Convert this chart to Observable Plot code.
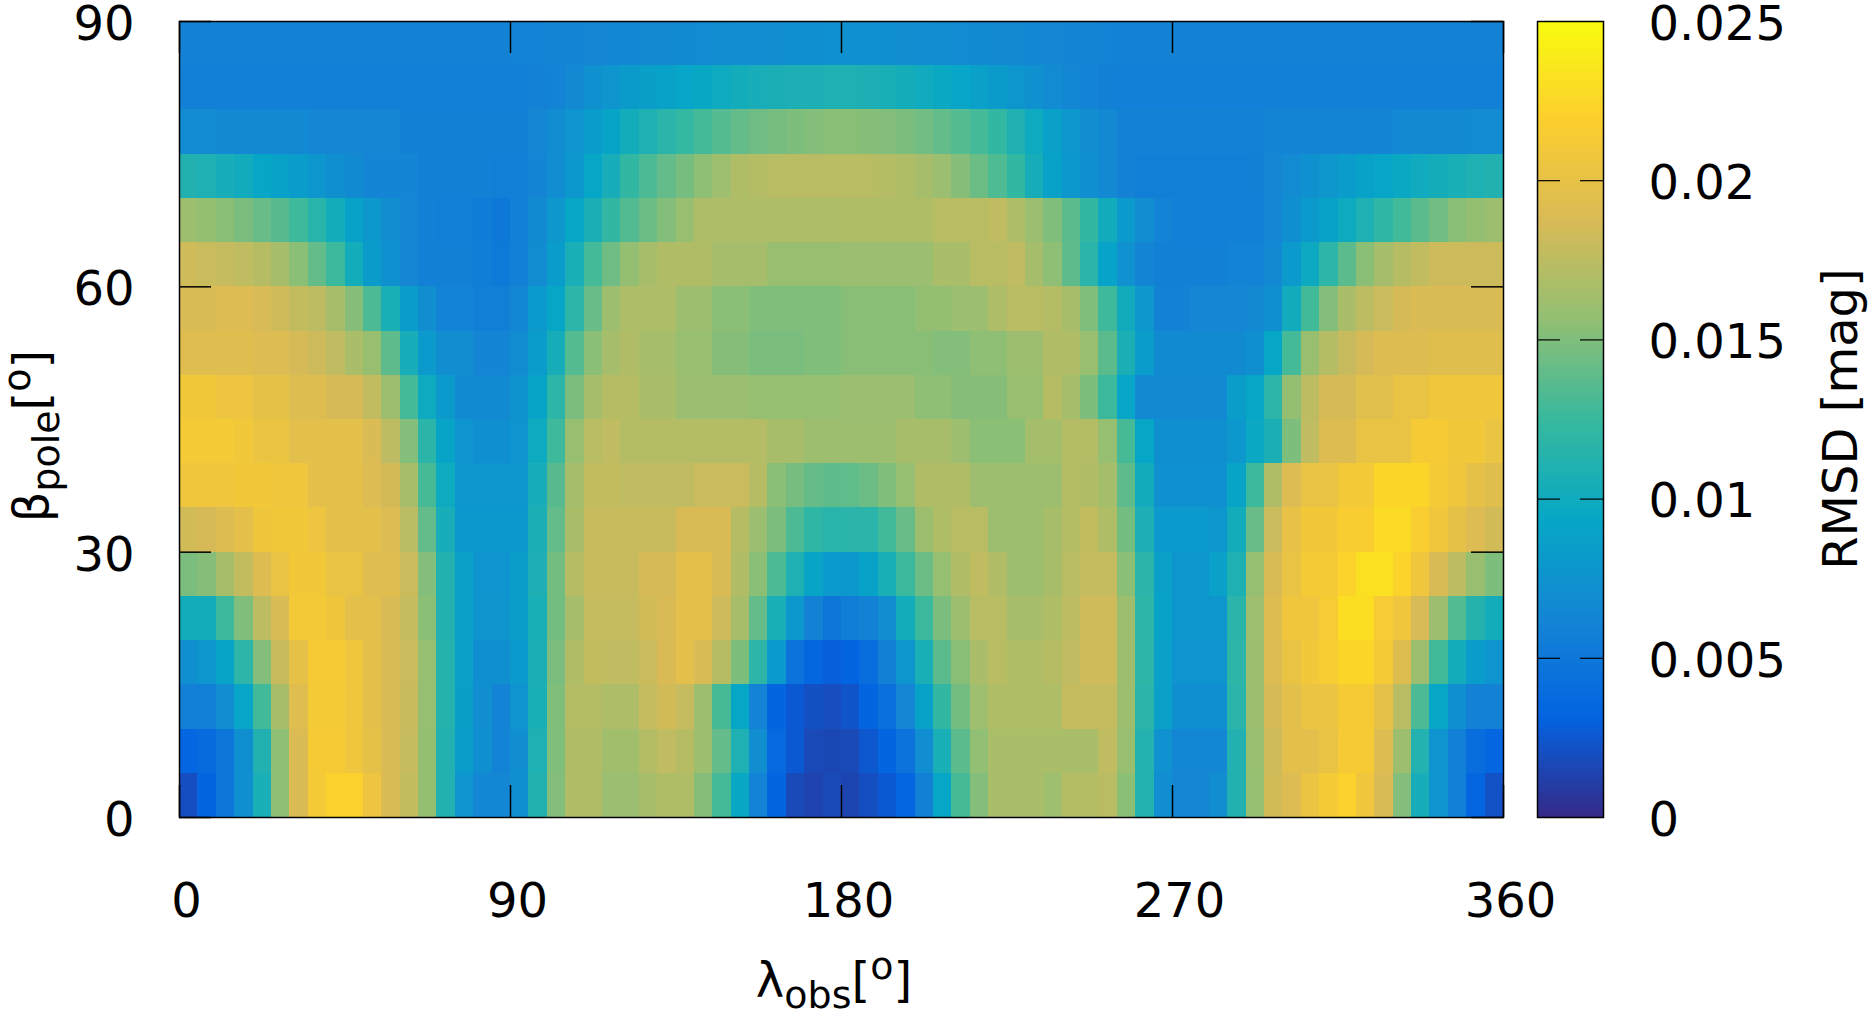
<!DOCTYPE html>
<html><head><meta charset="utf-8">
<script src="https://cdn.jsdelivr.net/npm/d3@7"></script>
<script src="https://cdn.jsdelivr.net/npm/@observablehq/plot@0.6"></script>
<style>
html,body{margin:0;padding:0;background:#fff;}
#chart{position:relative;width:1868px;height:1015px;}
#chart svg{position:absolute;left:0;top:0;max-width:none;overflow:visible;}
</style></head><body><div id="chart"></div>
<script>
// λ_obs cell left edges (deg) and β_pole cell lower edges (deg)
const lambdaObs = [0,5,10,15,20,25,30,35,40,45,50,55,60,65,70,75,80,85,90,95,100,105,110,115,120,125,130,135,140,145,150,155,160,165,170,175,
  180,185,190,195,200,205,210,215,220,225,230,235,240,245,250,255,260,265,270,275,280,285,290,295,300,305,310,315,320,325,330,335,340,345,350,355];
const betaPole = [0,5,10,15,20,25,30,35,40,45,50,55,60,65,70,75,80,85];
const cellSize = 5;

// RMSD in units of 0.001 mag, one row per β_pole band, columns follow lambdaObs
const rmsd_b00 = [2.0,3.3,5.0,7.2,10.6,15.5,18.9,21.2,22.0,22.0,20.5,18.9,17.8,15.7,11.1,7.6,6.4,6.4,7.2,11.1,15.1,17.0,17.0,16.0,16.0,16.6,16.9,16.9,15.2,12.9,9.5,6.1,3.3,1.7,1.4,1.7,
  1.5,2.0,2.6,3.4,5.9,9.4,13.0,15.1,16.7,16.7,16.7,16.2,17.1,17.1,17.4,15.4,11.2,7.0,6.3,6.3,7.1,11.1,15.8,18.4,19.0,20.3,21.2,22.0,20.7,18.9,15.1,10.5,7.6,5.8,3.4,2.2];
const rmsd_b05 = [3.4,3.9,4.9,7.2,11.1,15.5,18.9,21.3,21.3,20.7,19.9,18.9,17.9,15.7,11.1,8.5,7.2,6.1,7.1,10.9,15.0,17.0,17.0,16.3,16.3,17.1,17.6,17.2,16.1,14.0,10.9,7.1,3.7,2.6,1.7,1.6,
  1.7,2.5,3.3,4.6,7.0,10.6,13.7,15.6,16.7,16.7,16.7,16.7,16.7,16.7,17.6,15.9,11.2,7.4,6.4,6.4,6.4,11.1,15.9,18.3,19.6,19.6,20.2,21.3,21.3,19.1,16.1,11.2,7.6,5.8,4.0,3.4];
const rmsd_b10 = [5.8,5.7,7.0,9.2,12.8,16.6,19.3,21.2,21.2,20.7,19.6,18.9,18.0,15.8,11.3,8.6,7.1,6.1,7.6,10.6,15.0,17.1,17.1,16.8,16.8,17.9,18.4,17.9,16.1,13.0,9.4,6.1,3.3,2.6,2.1,1.9,
  2.3,3.3,4.3,6.3,8.9,12.2,14.6,16.2,16.9,16.9,16.9,16.9,17.9,17.9,17.9,16.1,11.6,8.7,7.2,7.2,7.2,11.6,16.1,18.6,19.6,20.3,20.3,21.3,21.3,19.8,17.3,13.2,9.3,7.2,6.0,6.0];
const rmsd_b15 = [7.2,7.8,9.1,11.8,15.1,18.0,19.9,21.3,21.3,20.7,19.7,18.9,18.1,15.8,11.3,8.7,7.2,7.2,8.2,10.7,14.8,17.0,17.8,17.6,17.6,18.1,18.8,19.6,18.9,17.2,14.9,11.8,8.2,4.6,3.5,2.9,
  3.2,4.1,5.9,7.8,10.6,13.7,15.3,16.7,17.3,16.9,16.9,17.2,17.6,18.3,18.3,16.1,11.8,8.7,7.6,7.6,7.6,11.8,16.1,19.0,20.2,20.9,21.5,22.4,22.4,21.2,19.2,16.1,12.8,10.2,8.4,7.6];
const rmsd_b20 = [10.2,10.2,12.6,15.0,17.5,18.9,21.1,21.1,20.6,19.6,19.6,18.8,17.9,15.4,11.1,8.8,7.7,7.7,8.5,10.6,14.6,16.5,17.9,17.9,17.9,18.4,18.8,19.6,19.6,18.2,16.6,14.0,10.6,8.0,6.0,5.0,
  5.6,6.0,7.1,10.2,12.6,14.8,16.1,17.3,17.3,16.5,16.5,16.9,17.5,18.3,18.3,16.1,11.8,8.9,7.8,7.8,7.8,11.6,16.2,19.1,20.7,20.7,21.4,23.0,23.0,21.4,20.7,18.7,16.1,13.4,11.3,10.2];
const rmsd_b25 = [14.8,15.2,16.6,17.8,19.1,20.2,21.0,21.0,20.2,20.2,19.3,19.3,18.1,15.1,11.1,8.8,7.6,7.6,8.5,10.8,14.6,17.2,18.0,18.0,18.0,18.6,18.6,19.6,19.6,18.8,17.0,15.4,13.2,10.9,9.1,8.2,
  8.0,8.9,10.6,12.6,14.3,15.8,17.0,17.6,17.0,16.1,16.1,16.6,17.3,17.9,17.9,15.4,11.6,8.7,7.8,7.8,8.7,10.9,15.8,18.8,20.2,21.2,21.2,22.2,23.1,23.1,22.2,20.7,18.8,17.5,15.9,14.9];
const rmsd_b30 = [18.4,18.6,19.1,19.7,20.6,20.9,20.9,20.5,19.6,19.6,19.6,19.0,17.4,14.0,10.5,8.0,8.0,8.0,8.0,10.7,14.0,16.7,18.0,18.0,18.0,18.0,18.0,18.8,18.8,18.8,17.2,16.0,14.8,13.2,12.0,11.5,
  11.6,11.6,12.8,14.2,16.1,16.9,17.3,17.3,16.1,16.1,16.1,16.6,17.1,17.8,16.9,14.6,10.8,8.2,8.2,8.2,7.8,10.2,14.2,18.1,20.0,21.0,21.0,21.6,21.6,22.8,22.8,21.7,20.8,19.9,19.0,18.4];
const rmsd_b35 = [20.7,20.7,20.7,21.0,21.0,20.7,20.7,19.7,19.7,19.7,19.0,18.5,16.6,13.0,9.9,7.8,7.8,7.8,7.8,10.5,13.6,16.5,17.8,17.8,17.6,17.6,17.6,17.6,18.1,18.1,18.1,17.2,15.4,14.7,14.1,13.8,
  13.9,14.3,15.0,15.8,17.0,17.0,17.0,16.1,16.1,16.1,16.1,16.1,17.1,17.0,16.4,13.8,10.1,7.3,7.3,7.3,7.3,9.1,12.6,16.9,19.0,20.2,20.2,21.1,21.1,22.4,22.4,22.4,21.2,20.7,19.9,19.4];
const rmsd_b40 = [21.2,21.2,21.2,20.9,20.4,20.4,19.6,19.6,19.6,19.6,18.9,17.5,15.1,11.7,9.1,7.6,7.2,7.2,7.6,9.9,12.7,15.9,17.3,17.6,17.1,17.1,17.1,17.1,17.1,17.1,17.1,17.1,16.6,16.6,16.1,16.1,
  16.1,16.1,16.1,16.6,16.6,16.6,16.1,15.4,15.4,15.4,16.4,16.4,17.1,17.1,15.8,13.0,9.4,7.2,7.2,7.2,7.2,8.0,9.6,10.7,14.9,17.6,19.1,19.1,20.2,20.2,20.2,21.3,21.3,20.9,20.9,20.4];
const rmsd_b45 = [20.9,20.9,20.5,20.5,19.9,19.9,19.2,19.2,18.6,18.6,17.7,16.1,12.9,9.9,8.1,6.7,6.7,6.7,7.5,9.1,11.8,14.8,16.5,17.2,17.2,16.7,16.7,16.0,16.0,16.0,16.0,15.8,15.8,15.8,15.8,15.8,
  16.0,16.0,16.0,16.0,15.5,15.5,15.2,15.2,15.2,15.9,15.9,17.2,16.4,14.9,12.6,9.2,6.6,6.6,6.6,6.6,6.6,8.5,9.4,11.8,15.7,17.5,18.6,18.6,19.5,19.5,20.2,20.2,20.8,20.8,20.8,20.8];
const rmsd_b50 = [19.3,19.3,19.3,19.3,19.0,19.0,18.6,18.2,17.6,16.7,15.9,13.8,10.5,8.2,7.1,7.1,6.2,6.2,6.9,8.4,10.4,13.5,15.4,16.5,17.0,16.5,16.5,15.9,15.9,15.2,15.2,14.8,14.8,14.8,15.0,15.0,
  15.3,15.3,15.3,15.3,15.3,15.1,15.1,15.5,15.5,16.1,16.1,17.0,17.0,15.9,13.7,10.7,8.4,6.7,6.7,6.7,6.7,6.7,7.2,9.3,12.9,15.9,17.1,18.0,18.6,19.1,19.1,19.1,19.4,19.4,19.4,19.4];
const rmsd_b55 = [18.9,18.9,19.0,19.0,18.7,18.35,17.8,17.5,16.6,15.2,13.2,10.6,8.4,7.1,6.1,6.1,5.7,5.7,6.4,8.1,9.3,11.8,14.2,16.1,16.8,16.8,16.8,16.1,16.1,15.4,15.4,15.0,15.0,15.0,15.0,15.0,
  15.3,15.3,15.3,15.3,15.7,15.7,16.0,16.0,16.8,17.4,17.4,17.1,16.6,15.0,12.7,10.1,7.9,6.0,6.0,6.3,6.3,6.3,6.6,7.2,10.1,12.8,15.1,16.7,17.5,18.1,18.6,18.9,18.9,18.9,18.9,18.9];
const rmsd_b60 = [18.35,18.1,17.9,17.6,17.2,16.5,15.4,14.0,12.6,10.2,8.3,7.3,6.3,5.9,5.9,5.9,5.5,5.2,5.8,6.9,8.4,10.6,12.95,14.4,15.7,16.6,17.0,17.0,17.0,16.5,16.5,16.5,15.9,15.9,15.9,15.9,
  16.0,16.0,16.0,16.0,16.0,16.7,16.7,17.3,17.3,17.6,16.5,15.5,13.8,11.6,9.0,7.4,6.2,5.9,5.9,5.9,5.9,6.1,6.1,6.6,8.1,9.8,11.8,13.7,15.4,16.5,17.2,17.7,18.2,18.2,18.2,18.2];
const rmsd_b65 = [16.1,15.7,15.3,14.8,14.2,13.6,12.7,11.5,10.2,8.9,8.0,7.1,6.3,5.9,5.7,5.7,5.4,5.1,5.8,6.7,7.9,9.3,10.7,12.2,13.4,14.3,15.1,15.9,16.8,16.8,16.8,16.8,16.8,16.8,16.8,16.8,
  16.9,16.9,16.9,16.9,16.9,17.3,17.3,17.3,17.6,16.8,16.0,15.0,13.7,12.1,10.1,8.2,7.0,6.1,5.8,5.8,5.8,5.8,5.8,6.3,7.2,8.2,8.9,9.9,10.9,12.0,12.8,13.7,14.5,15.3,15.7,16.1];
const rmsd_b70 = [11.1,10.9,10.5,10.1,9.4,8.9,8.4,7.8,7.2,6.7,6.2,6.2,6.2,5.9,5.9,5.9,5.9,5.7,5.7,6.2,7.0,8.0,9.4,10.5,12.1,13.2,14.0,14.7,15.5,16.2,16.9,17.1,17.3,17.4,17.4,17.4,
  17.4,17.3,17.1,16.9,16.5,16.0,15.2,14.3,13.3,12.1,10.4,8.9,8.0,7.2,6.6,6.0,5.7,5.7,5.7,5.7,5.7,5.7,5.9,6.3,6.8,7.3,7.9,8.4,8.9,9.2,9.6,10.0,10.3,10.6,10.9,11.1];
const rmsd_b75 = [6.8,6.8,6.6,6.6,6.6,6.6,6.6,6.3,6.3,6.3,6.3,6.3,5.9,5.9,5.9,5.9,5.9,5.9,5.9,6.3,6.9,7.6,8.4,9.1,10.2,10.9,11.6,12.3,12.9,13.5,14.0,14.4,14.7,14.9,15.1,15.3,
  15.3,15.2,15.1,14.8,14.5,14.0,13.5,12.9,12.1,11.0,9.9,8.7,7.8,7.1,6.5,6.0,6.0,6.0,6.0,6.0,6.0,6.0,6.0,6.2,6.2,6.2,6.2,6.2,6.2,6.2,6.6,6.6,6.6,6.6,6.8,6.8];
const rmsd_b80 = [5.8,5.8,5.8,5.8,5.8,5.8,5.8,5.8,5.8,5.8,5.8,5.8,5.8,5.8,5.8,5.8,5.8,5.8,5.8,6.0,6.1,6.6,7.3,7.7,8.3,8.6,8.9,9.2,9.5,9.9,10.2,10.5,10.7,10.8,10.8,10.9,
  10.9,10.8,10.6,10.3,10.0,9.6,9.2,8.8,8.3,7.8,7.3,6.8,6.4,6.1,5.9,5.8,5.8,5.8,5.8,5.8,5.8,5.8,5.8,5.8,5.8,5.8,5.8,5.8,5.8,5.8,5.8,5.8,5.8,5.8,5.8,5.8];
const rmsd_b85 = [6.0,6.0,6.0,6.0,6.0,6.0,6.0,6.0,6.0,6.0,6.0,6.0,6.0,6.0,6.0,6.0,6.0,6.0,6.1,6.1,6.2,6.2,6.3,6.4,6.4,6.5,6.6,6.7,6.8,6.9,7.0,7.0,7.1,7.2,7.2,7.3,
  7.3,7.3,7.2,7.1,7.0,6.9,6.8,6.7,6.6,6.5,6.4,6.3,6.2,6.2,6.1,6.0,6.0,6.0,6.0,6.0,6.0,6.0,6.0,6.0,6.0,6.0,6.0,6.0,6.0,6.0,6.0,6.0,6.0,6.0,6.0,6.0];
const rmsdRows = [rmsd_b00,rmsd_b05,rmsd_b10,rmsd_b15,rmsd_b20,rmsd_b25,rmsd_b30,rmsd_b35,rmsd_b40,
  rmsd_b45,rmsd_b50,rmsd_b55,rmsd_b60,rmsd_b65,rmsd_b70,rmsd_b75,rmsd_b80,rmsd_b85];

const xTicks = [0,90,180,270,360];
const yTicks = [0,30,60,90];
const cbTicks = [0,5,10,15,20,25];           // ×0.001 mag
const cbInnerTicks = [5,10,15,20];
// gnuplot "parula" palette
const paletteStops = ["#352a87","#0363e1","#1485d4","#06a7c6","#38b99e","#92bf73","#d9ba56","#fcce2e","#f9fb0e"];

const cells = [];
betaPole.forEach((b, i) => lambdaObs.forEach((l, j) => cells.push({l, b, v: rmsdRows[i][j]})));

const W = 1868, H = 1015;
const mL = 179, mR = W - 1503, mT = 21, mB = H - 817;
const plotW = W - mL - mR, plotH = H - mT - mB;
const FONT = '"DejaVu Sans", sans-serif';
const FS = 48;
const SUB = 38;
const tickLen = 32;

const colorOpts = {type: "linear", domain: [0, 25], clamp: true,
  interpolate: d3.piecewise(d3.interpolateRgb, paletteStops)};

const main = Plot.plot({
  width: W, height: H,
  marginLeft: mL, marginRight: mR, marginTop: mT, marginBottom: mB,
  style: {fontFamily: FONT, fontSize: FS + "px", background: "transparent", color: "black"},
  x: {domain: [0, 360]},
  y: {domain: [0, 90]},
  color: colorOpts,
  marks: [
    Plot.rect(cells, {x1: "l", x2: d => d.l + cellSize, y1: "b", y2: d => d.b + cellSize, fill: "v", shapeRendering: "crispEdges"}),
    Plot.tickX(xTicks, {x: d => d, insetTop: plotH - tickLen, stroke: "black", strokeWidth: 1.5}),
    Plot.tickX(xTicks, {x: d => d, insetBottom: plotH - tickLen, stroke: "black", strokeWidth: 1.5}),
    Plot.tickY(yTicks, {y: d => d, insetRight: plotW - tickLen, stroke: "black", strokeWidth: 1.5}),
    Plot.tickY(yTicks, {y: d => d, insetLeft: plotW - tickLen, stroke: "black", strokeWidth: 1.5}),
    Plot.frame({stroke: "black", strokeWidth: 1.5}),
    Plot.axisX(xTicks, {tickSize: 0, tickPadding: 65, dx: 7, fontSize: FS, label: null, tickFormat: d => String(d)}),
    Plot.axisY(yTicks, {tickSize: 0, tickPadding: 45, dy: 3, fontSize: FS, label: null, tickFormat: d => String(d)})
  ]
});

const cbL = 1537, cbR = 1603;
const cbLen = 23;
const gradientSamples = d3.range(0, 25, 0.05);
const cb = Plot.plot({
  width: W, height: H,
  marginLeft: cbL, marginRight: W - cbR, marginTop: mT, marginBottom: mB,
  style: {fontFamily: FONT, fontSize: FS + "px", background: "transparent", color: "black"},
  x: {domain: [0, 1], axis: null},
  y: {domain: [0, 25]},
  color: colorOpts,
  marks: [
    Plot.rect(gradientSamples, {x1: 0, x2: 1, y1: d => d, y2: d => d + 0.05, fill: d => d + 0.025, shapeRendering: "crispEdges"}),
    Plot.tickY(cbInnerTicks, {y: d => d, insetRight: (cbR - cbL) - cbLen, stroke: "black", strokeWidth: 1.2}),
    Plot.tickY(cbInnerTicks, {y: d => d, insetLeft: (cbR - cbL) - cbLen, stroke: "black", strokeWidth: 1.2}),
    Plot.frame({stroke: "black", strokeWidth: 1.5}),
    Plot.axisY(cbTicks, {anchor: "right", tickSize: 0, tickPadding: 45, dy: 3, fontSize: FS, label: null,
      tickFormat: d => d === 0 ? "0" : String(d / 1000)})
  ]
});

const chart = document.getElementById("chart");
chart.appendChild(main);
chart.appendChild(cb);

// axis titles with sub/superscripts
const svg = d3.select(cb);
function title(g, main, sub, x, y, rotate) {
  const t = g.append("text")
    .attr("transform", `translate(${x},${y})` + (rotate ? " rotate(-90)" : ""))
    .attr("text-anchor", "middle")
    .attr("font-family", FONT)
    .attr("font-size", FS)
    .attr("fill", "black");
  t.append("tspan").text(main);
  if (sub) {
    t.append("tspan").attr("font-size", SUB).attr("dy", 11).text(sub);
    t.append("tspan").attr("dy", -11).text("[");
    t.append("tspan").attr("font-size", SUB).attr("dy", -18).text("o");
    t.append("tspan").attr("dy", 18).text("]");
  }
  return t;
}
title(svg, "λ", "obs", 834, 997, false);
title(svg, "β", "pole", 48, 436, true);
title(svg, "RMSD [mag]", null, 1857, 419, true);
</script>
</body></html>
